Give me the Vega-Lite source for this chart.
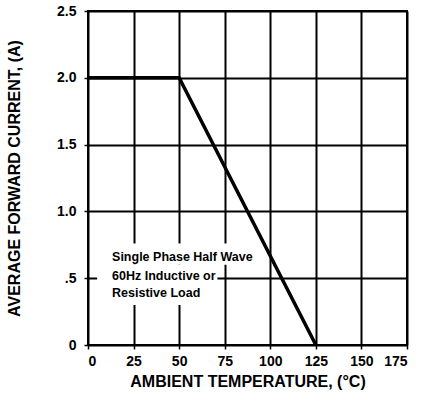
{
  "$schema": "https://vega.github.io/schema/vega-lite/v6.json",
  "width": 319,
  "height": 334,
  "autosize": {"type": "none"},
  "padding": {"left": 88, "top": 11, "right": 18, "bottom": 57},
  "background": "white",
  "config": {
    "view": {"stroke": "black", "strokeWidth": 2},
    "font": "Liberation Sans",
    "axis": {
      "grid": true, "gridColor": "black", "gridWidth": 2, "gridOpacity": 1,
      "domain": false, "ticks": true, "tickColor": "black", "tickSize": 4, "tickWidth": 1.5,
      "labelColor": "black", "labelFont": "Liberation Sans", "labelFontSize": 14, "labelFontWeight": "bold",
      "titleColor": "black", "titleFont": "Liberation Sans", "titleFontSize": 16, "titleFontWeight": "bold"
    }
  },
  "layer": [
    {
      "data": {"values": [
        {"x": 5, "x2": 93, "y": 0.6, "y2": 0.76},
        {"x": 5, "x2": 71, "y": 0.3, "y2": 0.6}
      ]},
      "mark": {"type": "rect", "color": "white"},
      "encoding": {
        "x": {"field": "x", "type": "quantitative", "scale": {"domain": [0, 175], "nice": false},
          "axis": {"values": [0, 25, 50, 75, 100, 125, 150, 175], "title": "AMBIENT TEMPERATURE, (°C)", "labelPadding": 5, "titlePadding": 5}},
        "x2": {"field": "x2"},
        "y": {"field": "y", "type": "quantitative", "scale": {"domain": [0, 2.5], "nice": false},
          "axis": {"values": [0, 0.5, 1, 1.5, 2, 2.5], "labelExpr": "datum.value == 0 ? '0' : datum.value == 0.5 ? '.5' : format(datum.value, '.1f')", "title": "AVERAGE FORWARD CURRENT, (A)", "labelPadding": 8, "titlePadding": 34}},
        "y2": {"field": "y2"}
      }
    },
    {
      "data": {"values": [
        {"t": 0, "a": 2.0},
        {"t": 50, "a": 2.0},
        {"t": 125, "a": 0}
      ]},
      "mark": {"type": "line", "color": "black", "strokeWidth": 3.5},
      "encoding": {
        "x": {"field": "t", "type": "quantitative"},
        "y": {"field": "a", "type": "quantitative"}
      }
    },
    {
      "data": {"values": [
        {"t": 13.2, "a": 0.655, "label": "Single Phase Half Wave"},
        {"t": 13.2, "a": 0.52, "label": "60Hz Inductive or"},
        {"t": 13.2, "a": 0.39, "label": "Resistive Load"}
      ]},
      "mark": {"type": "text", "align": "left", "baseline": "middle", "fontSize": 12.5, "fontWeight": "bold", "color": "black", "font": "Liberation Sans"},
      "encoding": {
        "x": {"field": "t", "type": "quantitative"},
        "y": {"field": "a", "type": "quantitative"},
        "text": {"field": "label"}
      }
    }
  ]
}
